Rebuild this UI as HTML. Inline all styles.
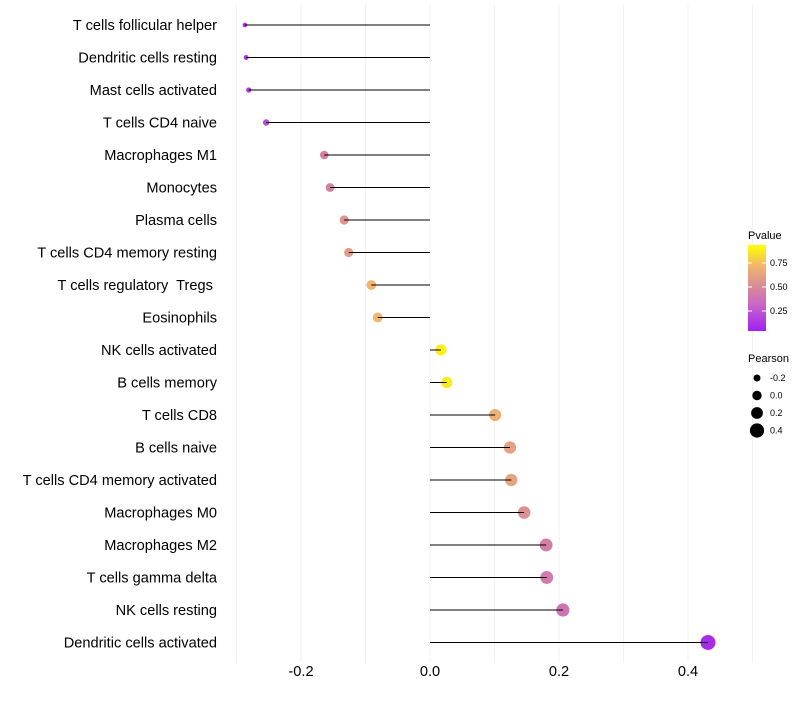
<!DOCTYPE html>
<html><head><meta charset="utf-8"><style>
body{margin:0;background:#fff;font-family:"Liberation Sans",sans-serif}
svg text{font-family:"Liberation Sans",sans-serif;white-space:pre}
</style></head><body>
<svg id="c" width="800" height="700"></svg>
<script>
const cells=["T cells follicular helper","Dendritic cells resting","Mast cells activated","T cells CD4 naive","Macrophages M1","Monocytes","Plasma cells","T cells CD4 memory resting","T cells regulatory  Tregs ","Eosinophils","NK cells activated","B cells memory","T cells CD8","B cells naive","T cells CD4 memory activated","Macrophages M0","Macrophages M2","T cells gamma delta","NK cells resting","Dendritic cells activated"];
const pearson=[-0.287,-0.285,-0.281,-0.254,-0.164,-0.155,-0.133,-0.126,-0.091,-0.081,0.017,0.026,0.101,0.124,0.126,0.146,0.180,0.181,0.206,0.431];
const pvalue=[0.08,0.08,0.10,0.20,0.47,0.47,0.58,0.62,0.75,0.76,0.95,0.93,0.72,0.65,0.65,0.55,0.45,0.43,0.38,0.05];
const xTicks=[-0.2,0,0.2,0.4];
const xTickLabels=["-0.2","0.0","0.2","0.4"];
const legendP=[0.75,0.50,0.25];
const legendSize=[-0.2,0.0,0.2,0.4];
const legendSizeLabels=["-0.2","0.0","0.2","0.4"];

const NS="http://www.w3.org/2000/svg",svg=document.getElementById('c');
function mk(t,a,p){const e=document.createElementNS(NS,t);for(const k in a)e.setAttribute(k,a[k]);(p||svg).appendChild(e);return e;}
const x=v=>430+v*645;
const y=i=>25+i*32.5;
const stops=[[0,[160,32,240]],[0.3,[200,100,200]],[0.5,[215,135,155]],[0.75,[240,180,110]],[1,[255,255,0]]];
function col(p){for(let i=1;i<stops.length;i++){if(p<=stops[i][0]){const a=stops[i-1],b=stops[i],t=(p-a[0])/(b[0]-a[0]);return 'rgb('+a[1].map((c,j)=>Math.round(c+(b[1][j]-c)*t)).join(',')+')';}}return 'rgb(255,255,0)';}
const rad=v=>2+5.5*Math.sqrt(Math.max(0,(v+0.29)/0.72));
[-0.3,-0.2,-0.1,0,0.1,0.2,0.3,0.4,0.5].forEach(v=>{const g=mk('line',{x1:x(v),x2:x(v),y1:5,y2:662,stroke:'#f0f0f0','stroke-width':1});});
cells.forEach((c,i)=>{
 const t=mk('text',{x:217,y:y(i)+5,'text-anchor':'end','font-size':14.6,fill:'#000'});t.textContent=c;
 
 const d=mk('circle',{cx:x(pearson[i]),cy:y(i),r:rad(pearson[i]),fill:col(pvalue[i])});
 
 const l=mk('line',{x1:x(0),x2:x(pearson[i]),y1:y(i),y2:y(i),stroke:'#000','stroke-width':1});
 
});
xTicks.forEach((v,i)=>{const t=mk('text',{x:x(v),y:676,'text-anchor':'middle','font-size':14.6,fill:'#000'});t.textContent=xTickLabels[i];});
const lt=mk('text',{x:748,y:239,'font-size':11,fill:'#000'});lt.textContent='Pvalue';
const defs=mk('defs',{});const gr=mk('linearGradient',{id:'g',x1:0,y1:1,x2:0,y2:0},defs);
stops.forEach(s=>mk('stop',{offset:s[0],'stop-color':'rgb('+s[1].join(',')+')'},gr));
const cb=mk('rect',{x:748,y:245,width:18,height:86,fill:'url(#g)'});
const cy=p=>335-p*96;
legendP.forEach(p=>{const t=mk('text',{x:770,y:cy(p)+3,'font-size':9,fill:'#000'});t.textContent=p.toFixed(2);
 mk('line',{x1:748,x2:752,y1:cy(p),y2:cy(p),stroke:'#fff'});mk('line',{x1:762,x2:766,y1:cy(p),y2:cy(p),stroke:'#fff'});});
const st=mk('text',{x:748,y:362,'font-size':11,fill:'#000'});st.textContent='Pearson';
legendSize.forEach((v,i)=>{const yy=378+i*17.5;const r=3.5+(v+0.2)*6;
 const d=mk('circle',{cx:757,cy:yy,r:r,fill:'#000'});
 const t=mk('text',{x:770,y:yy+3,'font-size':9,fill:'#000'});t.textContent=legendSizeLabels[i];});
</script>
</body></html>
